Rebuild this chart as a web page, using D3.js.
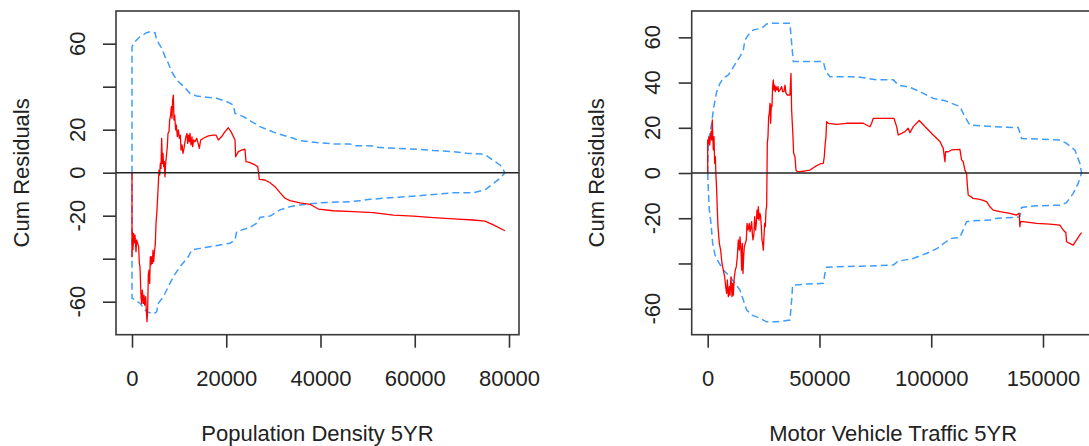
<!DOCTYPE html>
<html>
<head>
<meta charset="utf-8">
<script src="https://cdn.jsdelivr.net/npm/d3@7"></script>
<style>
  html, body { margin: 0; padding: 0; background: #fff; }
  svg { display: block; }
  text { font-family: "Liberation Sans", Arial, sans-serif; fill: #222; }
</style>
</head>
<body>
<svg id="chart" width="1089" height="446"></svg>
<script>
// ---------------- DATA ----------------
// Panel 1: Population Density 5YR  (x value, cumulative residual)
const densityResid = [
  [0,0],[0,-39.1],[71,-27.4],[212,-35.7],[354,-28.2],[495,-32.6],[637,-29.0],[849,-36.7],[990,-31.3],
  [1202,-32.9],[1415,-34.4],[1556,-42.2],[1698,-43.7],[1910,-57.7],[2051,-60.8],[2193,-54.6],[2405,-60.8],
  [2546,-56.9],[2688,-61.6],[2900,-57.7],[3041,-63.9],[3183,-69.3],[3324,-63.9],[3466,-47.6],[3607,-45.3],
  [3749,-51.5],[3890,-39.1],[4032,-42.9],[4173,-39.1],[4315,-42.2],[4456,-36.0],[4598,-41.4],[4739,-37.5],
  [4951,-32.9],[5093,-23.6],[5305,-17.4],[5446,-11.2],[5588,-5.0],[5729,1.2],[5871,-1.1],[6012,4.3],
  [6154,2.0],[6295,16.0],[6437,4.3],[6578,9.0],[6720,2.8],[6861,5.1],[7002,-1.9],[7144,4.3],[7285,7.4],
  [7497,12.1],[7639,18.3],[7851,19.1],[7993,24.5],[8205,26.8],[8346,30.7],[8488,25.3],[8629,33.8],
  [8771,36.1],[8912,24.5],[9054,26.8],[9266,19.9],[9407,22.2],[9619,16.8],[9831,19.9],[10044,16.0],
  [10256,17.5],[10397,10.5],[10609,12.9],[10822,9.0],[11034,11.3],[11246,14.4],[11458,16.8],[11670,18.3],
  [11812,13.6],[12024,17.5],[12166,14.4],[12307,18.3],[12519,12.9],[12731,16.7],[12873,12.1],[13085,15.2],
  [13368,14.4],[13722,16.0],[14005,14.0],[14288,11.3],[14571,15.2],[15137,16.0],[16198,17.1],[17259,17.5],
  [17825,17.5],[18320,15.2],[19027,16.8],[19734,19.1],[20442,20.9],[21008,19.1],[21502,16.8],[21856,15.2],
  [21998,7.4],[22564,9.8],[23271,10.5],[23978,10.9],[24190,5.1],[25039,4.7],[26100,3.6],[26666,2.8],
  [26878,-0.3],[27019,-3.1],[28222,-3.4],[29283,-4.7],[30344,-6.5],[31405,-9.3],[32466,-11.9],[33527,-13.0],
  [35650,-14.0],[37772,-14.7],[39540,-16.9],[42723,-17.7],[46967,-18.1],[51211,-18.6],[55455,-19.7],
  [59699,-20.2],[63943,-20.9],[68187,-21.5],[72431,-22.0],[74907,-22.5],[76675,-24.3],[79151,-27.0]
];
const densityUpper = [
  [0,0],[0,58.6],[637,60.9],[1698,63.3],[3112,65.1],[3820,65.6],[4880,65.1],[5234,61.7],[6295,57.9],
  [7002,54.0],[7710,50.9],[8417,47.0],[9478,43.1],[10893,40.3],[12308,36.9],[13722,35.7],[15844,35.1],
  [17966,34.6],[20088,33.1],[21502,31.5],[21856,27.6],[23624,26.1],[27161,21.4],[30698,18.3],[34235,16.0],
  [35650,14.9],[39187,14.0],[42724,13.4],[46260,13.4],[46968,12.6],[51212,12.4],[51920,11.8],[56164,11.3],
  [60408,10.9],[63945,10.3],[68189,9.8],[71018,9.0],[74201,8.7],[75262,7.8],[78092,3.6],[79153,0]
];
const densityLower = [
  [0,0],[0,-58.4],[637,-59.2],[1698,-60.7],[3112,-64.7],[4527,-65.7],[5234,-64.7],[5588,-60.7],
  [6649,-57.7],[7710,-53.0],[8771,-48.4],[10186,-43.7],[11954,-39.1],[12661,-36.0],[14430,-35.2],
  [16552,-34.4],[18674,-33.6],[20796,-32.8],[21856,-31.3],[22210,-27.4],[25039,-25.4],[26454,-23.5],
  [27161,-20.8],[29283,-20.2],[31405,-17.3],[33527,-15.8],[35650,-15.0],[37772,-14.5],[39894,-14.0],
  [46260,-13.5],[48382,-13.0],[50504,-12.4],[55455,-11.5],[60408,-10.8],[65359,-9.9],[68189,-9.3],
  [72433,-9.3],[74909,-8.0],[78092,-2.6],[79153,0]
];
const densityXTicks = [0, 20000, 40000, 60000, 80000];
const densityYTicks = [-60, -40, -20, 0, 20, 40, 60];
const densityYLabels = [-60, -20, 0, 20, 60];

// Panel 2: Motor Vehicle Traffic 5YR
const trafficResid = [
  [0,0],[0,14.6],[283,13.1],[581,16.1],[880,12.4],[1178,15.3],[1476,18.3],[1774,14.6],[2072,23.5],
  [2221,17.6],[2519,10.2],[2817,16.1],[3116,4.3],[3414,7.2],[3712,-1.6],[4010,-7.5],[4308,-16.4],
  [4606,-23.7],[5202,-31.1],[5799,-34.1],[6395,-40.0],[6991,-42.9],[7587,-45.9],[8035,-50.3],[8482,-53.2],
  [8780,-47.3],[9227,-54.7],[9674,-50.3],[9972,-54.0],[10420,-45.9],[10867,-54.7],[11165,-48.8],
  [11463,-54.0],[11910,-45.9],[12358,-42.9],[12805,-41.4],[13252,-37.0],[13699,-29.6],[14146,-34.1],
  [14445,-28.2],[14892,-34.1],[15190,-42.9],[15488,-31.1],[15786,-44.4],[16084,-37.0],[16383,-32.6],
  [16830,-31.1],[17277,-29.6],[17575,-22.3],[18022,-25.2],[18321,-23.7],[18619,-22.3],[18917,-26.0],
  [19364,-23.7],[19662,-21.5],[19961,-26.7],[20259,-29.6],[20706,-26.7],[21004,-19.3],[21451,-25.2],
  [21749,-22.3],[22048,-16.4],[22346,-20.1],[22644,-14.9],[22942,-20.8],[23389,-17.8],[23687,-19.3],
  [23986,-23.7],[24284,-29.6],[24582,-31.1],[24880,-34.1],[25178,-28.2],[25476,-22.3],[25774,-23.7],
  [26073,-16.4],[26371,-14.9],[26669,13.1],[26967,16.1],[27265,24.9],[27563,26.4],[27862,30.8],
  [28160,22.0],[28458,30.1],[28756,29.4],[29054,38.2],[29352,41.2],[29651,36.7],[29949,38.9],[30247,36.0],
  [30545,38.2],[30992,36.7],[31439,38.2],[31738,36.0],[32334,36.7],[33079,38.2],[33526,36.0],[34123,36.0],
  [34570,38.9],[35017,35.3],[35614,34.5],[36806,34.5],[37253,44.1],[37551,27.9],[38147,16.1],[38445,8.7],
  [39042,7.2],[39489,1.3],[40085,0.6],[41278,0.6],[43514,0.9],[45750,1.3],[47986,2.8],[50222,4.0],
  [51712,4.3],[52160,7.2],[52458,11.7],[52905,16.1],[53203,22.7],[53948,22.0],[57675,21.5],[62147,22.0],
  [66619,22.0],[69600,22.0],[71836,20.8],[72582,20.5],[73327,22.0],[74073,24.2],[77799,24.2],[83315,24.2],
  [84510,20.5],[85250,16.8],[88230,18.3],[89720,19.8],[90470,17.8],[91960,20.5],[94640,23.2],[97920,19.8],
  [100900,16.8],[103880,13.9],[105370,10.9],[106120,5.0],[106420,9.4],[107610,9.4],[109100,10.2],
  [112830,10.5],[113570,5.8],[114320,5.0],[115060,1.3],[115810,-0.1],[116110,-4.6],[116550,-9.7],
  [118790,-11.2],[121770,-11.7],[124750,-12.7],[126250,-14.9],[127740,-16.4],[130720,-17.1],[135190,-17.8],
  [138170,-18.6],[139360,-17.8],[139660,-23.7],[139960,-21.5],[141150,-21.5],[147110,-22.3],[153080,-22.6],
  [157550,-23.0],[159040,-25.2],[160240,-26.4],[160530,-30.4],[163510,-31.9],[166490,-27.4],[167250,-26.4]
];
const trafficUpper = [
  [0,0],[283,14.6],[1029,17.6],[1774,22.0],[2519,27.9],[3265,32.3],[4010,36.0],[5501,39.7],[6992,41.9],
  [9228,43.4],[10719,45.6],[12955,49.3],[14446,51.5],[15936,54.4],[16682,58.8],[18172,61.1],[20408,63.3],
  [24135,64.0],[26371,65.9],[27862,66.2],[36806,66.2],[37552,57.4],[38297,49.3],[42769,49.3],[51714,49.3],
  [52906,44.8],[54695,42.6],[66621,42.6],[71093,41.9],[75565,41.2],[83019,41.2],[85255,38.9],[90472,37.9],
  [94930,36.0],[100890,33.0],[106110,32.0],[112820,29.4],[115060,24.9],[117300,21.2],[127730,20.5],
  [138910,20.1],[140400,15.3],[157540,14.6],[160520,13.1],[164250,10.2],[166490,4.3],[167250,0]
];
const trafficLower = [
  [0,0],[283,-7.5],[730,-16.4],[1476,-22.3],[2221,-31.1],[3265,-36.3],[4755,-39.2],[6992,-42.9],
  [9973,-45.9],[12209,-48.8],[14445,-51.8],[15936,-56.2],[17427,-60.6],[19663,-62.8],[21899,-63.6],
  [26371,-65.8],[30843,-65.8],[36806,-65.0],[37552,-56.2],[37999,-49.6],[44260,-49.1],[51714,-48.8],
  [52459,-44.4],[53205,-41.7],[59168,-41.4],[72584,-41.1],[83019,-40.7],[85255,-39.0],[91850,-37.8],
  [98060,-35.5],[102720,-33.3],[106600,-30.4],[108930,-28.9],[112830,-28.5],[115810,-21.5],[118790,-21.1],
  [126250,-20.8],[127740,-20.1],[138170,-19.6],[139660,-19.3],[140410,-15.2],[145620,-14.6],[157550,-14.2],
  [160530,-13.1],[163510,-9.0],[165740,-4.6],[167250,0]
];
const trafficXTicks = [0, 50000, 100000, 150000];
const trafficYTicks = [-60, -40, -20, 0, 20, 40, 60];
const trafficYLabels = [-60, -20, 0, 20, 40, 60];

const yTitle = "Cum Residuals";
const xTitles = ["Population Density 5YR", "Motor Vehicle Traffic 5YR"];

// ---------------- DRAW ----------------
const svg = d3.select("#chart");
const FONT = 22;

const panels = [
  { id: "p1", box: {x0: 116, x1: 519, y0: 11, y1: 334.7},
    xDom: [-3395, 82122], yDom: [-75.35, 75.2],
    resid: densityResid, upper: densityUpper, lower: densityLower,
    xTicks: densityXTicks, yTicks: densityYTicks, yLabels: densityYLabels, xTitle: xTitles[0] },
  { id: "p2", box: {x0: 691.7, x1: 1094.7, y0: 11, y1: 334.7},
    xDom: [-7158, 173130], yDom: [-71.5, 71.65],
    resid: trafficResid, upper: trafficUpper, lower: trafficLower,
    xTicks: trafficXTicks, yTicks: trafficYTicks, yLabels: trafficYLabels, xTitle: xTitles[1] }
];

const defs = svg.append("defs");

panels.forEach(p => {
  const b = p.box;
  const x = d3.scaleLinear().domain(p.xDom).range([b.x0, b.x1]);
  const y = d3.scaleLinear().domain(p.yDom).range([b.y1, b.y0]);
  const g = svg.append("g");

  defs.append("clipPath").attr("id", "clip-" + p.id)
    .append("rect").attr("x", b.x0).attr("y", b.y0)
    .attr("width", b.x1 - b.x0).attr("height", b.y1 - b.y0);

  const plot = g.append("g").attr("clip-path", `url(#clip-${p.id})`);
  const line = d3.line().x(d => x(d[0])).y(d => y(d[1]));

  [p.upper, p.lower].forEach(band => {
    plot.append("path").datum(band).attr("d", line)
      .attr("fill", "none").attr("stroke", "#3f9cff")
      .attr("stroke-width", 1.5).attr("stroke-dasharray", "7,4");
  });
  plot.append("path").datum(p.resid).attr("d", line)
    .attr("fill", "none").attr("stroke", "#ff0000")
    .attr("stroke-width", 1.3).attr("stroke-linejoin", "round");

  // zero reference line
  plot.append("line")
    .attr("x1", b.x0).attr("x2", b.x1)
    .attr("y1", y(0)).attr("y2", y(0))
    .attr("stroke", "#222").attr("stroke-width", 1.5);

  // box
  g.append("rect").attr("x", b.x0).attr("y", b.y0)
    .attr("width", b.x1 - b.x0).attr("height", b.y1 - b.y0)
    .attr("fill", "none").attr("stroke", "#3a3a3a").attr("stroke-width", 1.6);

  // x axis
  const xAxis = d3.axisBottom(x).tickValues(p.xTicks).tickSize(13)
    .tickFormat(d => String(d)).tickPadding(0);
  const xg = g.append("g").attr("transform", `translate(0,${b.y1})`).call(xAxis);
  xg.select(".domain").remove();
  xg.selectAll(".tick line").attr("stroke", "#333").attr("stroke-width", 1.6);
  xg.selectAll(".tick text")
    .attr("y", 51.3).attr("dy", null)
    .style("font-family", '"Liberation Sans", Arial, sans-serif')
    .style("font-size", FONT + "px").attr("fill", "#222");

  // y axis (ticks via d3, labels rotated like R)
  const yAxis = d3.axisLeft(y).tickValues(p.yTicks).tickSize(13).tickFormat("");
  const yg = g.append("g").attr("transform", `translate(${b.x0},0)`).call(yAxis);
  yg.select(".domain").remove();
  yg.selectAll(".tick line").attr("stroke", "#333").attr("stroke-width", 1.6);

  g.selectAll("text.ylab").data(p.yLabels).enter().append("text")
    .attr("class", "ylab")
    .attr("transform", d => `translate(${b.x0 - 31.5},${y(d)}) rotate(-90)`)
    .attr("text-anchor", "middle")
    .style("font-size", FONT + "px")
    .text(d => String(d));

  // titles
  g.append("text")
    .attr("transform", `translate(${b.x0 - 87.5},${(b.y0 + b.y1) / 2}) rotate(-90)`)
    .attr("text-anchor", "middle").style("font-size", FONT + "px")
    .text(yTitle);

  g.append("text")
    .attr("x", (b.x0 + b.x1) / 2).attr("y", b.y1 + 106.3)
    .attr("text-anchor", "middle").style("font-size", FONT + "px")
    .text(p.xTitle);
});
</script>
</body>
</html>
